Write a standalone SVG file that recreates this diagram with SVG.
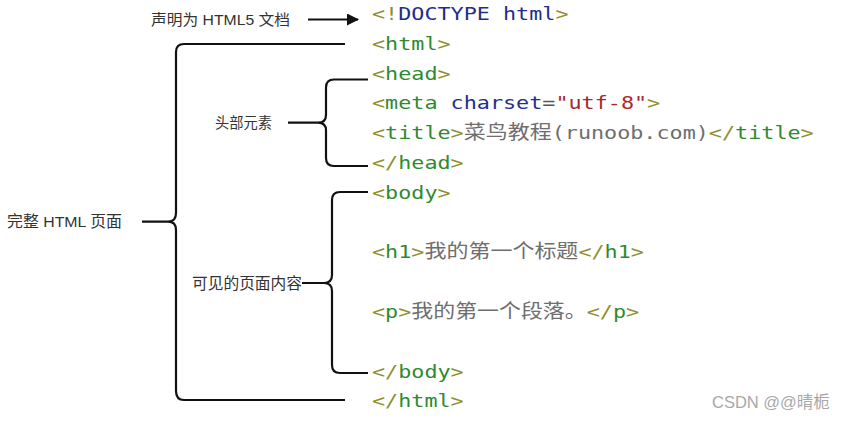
<svg xmlns="http://www.w3.org/2000/svg" width="856" height="424" viewBox="0 0 856 424">
<style>
.code{font-family:"DejaVu Sans Mono","Liberation Mono",monospace;font-size:18px}
.cjk{font-family:"Noto Sans CJK SC","Noto Sans CJK JP",sans-serif;font-size:19.5px;fill:#6e6e6e}
.b{fill:#8f8f2e}
.t{fill:#2f8a2f}
.n{fill:#1f2e8c}
.r{fill:#a8282c}
.g{fill:#6e6e6e}
.lbl{font-family:"Liberation Sans","Noto Sans CJK SC",sans-serif;fill:#333}
.br{fill:none;stroke:#111;stroke-width:2.2;stroke-linejoin:round}
.wm{font-family:"Liberation Sans","Noto Sans CJK SC",sans-serif;font-size:16.5px;fill:#a8a8a8}
</style>
<defs>
<marker id="ah" viewBox="0 0 12 12" refX="11" refY="6" markerWidth="12" markerHeight="12" markerUnits="userSpaceOnUse" orient="auto">
<path d="M0,0 L12,6 L0,12 Z" fill="#111"/>
</marker>
</defs>
<rect width="856" height="424" fill="#fff"/>

<g id="connectors">
<path class="br" d="M308,19.5 H358" marker-end="url(#ah)"/>
<path class="br" d="M345,44 H184 Q176,44 176,52 V213 Q176,221.7 168,221.7 Q176,221.7 176,230 V391 Q176,400 184,400 H345 M142,221.7 H168"/>
<path class="br" d="M368,79.5 H334 Q326,79.5 326,87.5 V115 Q326,122.7 318,122.7 Q326,122.7 326,130.5 V158 Q326,166 334,166 H368 M288,122.7 H318"/>
<path class="br" d="M368,192 H340 Q332,192 332,200 V275 Q332,283 324,283 Q332,283 332,291 V365 Q332,373 340,373 H368 M302,283 H324"/>
</g>

<g id="label-doctype"><text class="lbl" x="151" y="24.5" font-size="15" textLength="139" lengthAdjust="spacingAndGlyphs">声明为 HTML5 文档</text></g>
<g id="label-page"><text class="lbl" x="7" y="227" font-size="15.5" textLength="115" lengthAdjust="spacingAndGlyphs">完整 HTML 页面</text></g>
<g id="label-head"><text class="lbl" x="215" y="128" font-size="14.5" textLength="57" lengthAdjust="spacingAndGlyphs">头部元素</text></g>
<g id="label-body"><text class="lbl" x="192" y="288.5" font-size="15.5" textLength="110" lengthAdjust="spacingAndGlyphs">可见的页面内容</text></g>

<g id="code">
<g id="l-doctype"><text class="code" x="372" y="20" textLength="196.5" lengthAdjust="spacingAndGlyphs"><tspan class="b">&lt;!</tspan><tspan class="n">DOCTYPE html</tspan><tspan class="b">&gt;</tspan></text></g>
<g id="l-html"><text class="code" x="372" y="49.8" textLength="78.6" lengthAdjust="spacingAndGlyphs"><tspan class="b">&lt;</tspan><tspan class="t">html</tspan><tspan class="b">&gt;</tspan></text></g>
<g id="l-head"><text class="code" x="372" y="79.6" textLength="78.6" lengthAdjust="spacingAndGlyphs"><tspan class="b">&lt;</tspan><tspan class="t">head</tspan><tspan class="b">&gt;</tspan></text></g>
<g id="l-meta"><text class="code" x="372" y="109.4" textLength="288.2" lengthAdjust="spacingAndGlyphs"><tspan class="b">&lt;</tspan><tspan class="t">meta</tspan><tspan class="n"> charset</tspan><tspan fill="#555">=</tspan><tspan class="r">"utf-8"</tspan><tspan class="b">&gt;</tspan></text></g>
<g id="l-title">
<text class="code" x="372" y="139.2" textLength="91.7" lengthAdjust="spacingAndGlyphs"><tspan class="b">&lt;</tspan><tspan class="t">title</tspan><tspan class="b">&gt;</tspan></text>
<text class="cjk" x="463.7" y="139.2" textLength="88" lengthAdjust="spacingAndGlyphs">菜鸟教程</text>
<text class="code" x="551.7" y="139.2" textLength="262" lengthAdjust="spacingAndGlyphs"><tspan class="g">(runoob.com)</tspan><tspan class="b">&lt;/</tspan><tspan class="t">title</tspan><tspan class="b">&gt;</tspan></text>
</g>
<g id="l-head-end"><text class="code" x="372" y="169" textLength="91.7" lengthAdjust="spacingAndGlyphs"><tspan class="b">&lt;/</tspan><tspan class="t">head</tspan><tspan class="b">&gt;</tspan></text></g>
<g id="l-body"><text class="code" x="372" y="198.8" textLength="78.6" lengthAdjust="spacingAndGlyphs"><tspan class="b">&lt;</tspan><tspan class="t">body</tspan><tspan class="b">&gt;</tspan></text></g>
<g id="l-h1">
<text class="code" x="372" y="258.4" textLength="52.4" lengthAdjust="spacingAndGlyphs"><tspan class="b">&lt;</tspan><tspan class="t">h1</tspan><tspan class="b">&gt;</tspan></text>
<text class="cjk" x="424.4" y="258.4" textLength="154" lengthAdjust="spacingAndGlyphs">我的第一个标题</text>
<text class="code" x="578.4" y="258.4" textLength="65.5" lengthAdjust="spacingAndGlyphs"><tspan class="b">&lt;/</tspan><tspan class="t">h1</tspan><tspan class="b">&gt;</tspan></text>
</g>
<g id="l-p">
<text class="code" x="372" y="318" textLength="39.3" lengthAdjust="spacingAndGlyphs"><tspan class="b">&lt;</tspan><tspan class="t">p</tspan><tspan class="b">&gt;</tspan></text>
<text class="cjk" x="411.3" y="318" textLength="175.4" lengthAdjust="spacingAndGlyphs">我的第一个段落。</text>
<text class="code" x="586.7" y="318" textLength="52.4" lengthAdjust="spacingAndGlyphs"><tspan class="b">&lt;/</tspan><tspan class="t">p</tspan><tspan class="b">&gt;</tspan></text>
</g>
<g id="l-body-end"><text class="code" x="372" y="377.6" textLength="91.7" lengthAdjust="spacingAndGlyphs"><tspan class="b">&lt;/</tspan><tspan class="t">body</tspan><tspan class="b">&gt;</tspan></text></g>
<g id="l-html-end"><text class="code" x="372" y="407.4" textLength="91.7" lengthAdjust="spacingAndGlyphs"><tspan class="b">&lt;/</tspan><tspan class="t">html</tspan><tspan class="b">&gt;</tspan></text></g>
</g>

<g id="watermark"><text class="wm" x="712" y="408">CSDN @@晴栀</text></g>
</svg>
